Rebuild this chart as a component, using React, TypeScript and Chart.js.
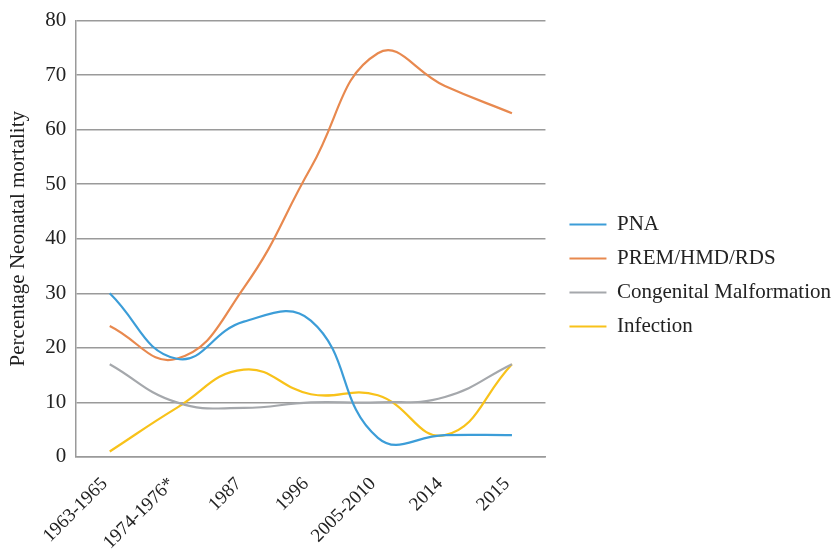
import React, { useEffect, useRef } from "react";
import { Chart, registerables } from "chart.js";

Chart.register(...registerables);

const categories = ["1963-1965", "1974-1976*", "1987", "1996", "2005-2010", "2014", "2015"];
const pnaValues = [30, 18, 24.8, 25, 3.5, 4, 4];
const premValues = [24, 18, 31, 53, 74, 68, 63];
const congenitalValues = [17, 10, 9, 10, 10, 11, 17];
const infectionValues = [1, 9, 16, 11.5, 11.3, 4, 17];
const seriesNames = ["PNA", "PREM/HMD/RDS", "Congenital Malformation", "Infection"];
const seriesColors = ["#3C9DD8", "#E8894F", "#A5A8AC", "#F8C21A"];
const yTitle = "Percentage Neonatal mortality";

const FONT = "'Liberation Serif', 'Times New Roman', serif";

const legendShift = {
  id: "legendShift",
  afterLayout(chart: any) {
    const lg = chart.legend;
    if (lg) {
      lg.left += 11;
      lg.right += 11;
      lg.top -= 12;
      lg.bottom -= 12;
    }
  },
};

export default function App() {
  const ref = useRef<HTMLCanvasElement | null>(null);
  useEffect(() => {
    if (!ref.current) return;
    const values = [pnaValues, premValues, congenitalValues, infectionValues];
    const chart = new Chart(ref.current, {
      type: "line",
      data: {
        labels: categories,
        datasets: values.map((v, i) => ({
          label: seriesNames[i],
          data: v,
          borderColor: seriesColors[i],
          backgroundColor: seriesColors[i],
          borderWidth: 2.2,
          pointRadius: 0,
          pointHoverRadius: 0,
          tension: 0.45,
          fill: false,
        })),
      },
      options: {
        responsive: false,
        animation: false,
        layout: { padding: { left: 6, right: 4, top: 5, bottom: -18 } },
        plugins: {
          tooltip: { enabled: false },
          legend: {
            position: "right",
            maxWidth: 320,
            labels: {
              usePointStyle: true,
              pointStyle: "line",
              pointStyleWidth: 37,
              padding: 13,
              color: "#222",
              font: { family: FONT, size: 21 },
            },
          },
        },
        scales: {
          x: {
            offset: true,
            grid: { display: false, drawTicks: false },
            border: { display: true, color: "#9a9a9a", width: 1.5 },
            ticks: {
              color: "#222",
              font: { family: FONT, size: 19 },
              minRotation: 45,
              maxRotation: 45,
              padding: 16,
              labelOffset: -5,
            },
          },
          y: {
            min: 0,
            max: 80,
            grid: { color: "#9a9a9a", lineWidth: 1.4, drawTicks: false },
            border: { display: true, color: "#9a9a9a", width: 1.5 },
            ticks: {
              stepSize: 10,
              color: "#222",
              font: { family: FONT, size: 21, lineHeight: 1 },
              padding: 10,
            },
            title: {
              display: true,
              text: yTitle,
              color: "#222",
              font: { family: FONT, size: 21 },
              padding: { top: 0, bottom: 4 },
            },
          },
        },
      },
      plugins: [legendShift],
    });
    return () => chart.destroy();
  }, []);
  return (
    <div style={{ position: "absolute", left: 0, top: 0, width: 834, height: 552, background: "#fff" }}>
      <canvas ref={ref} width={834} height={552} style={{ display: "block" }} />
    </div>
  );
}
